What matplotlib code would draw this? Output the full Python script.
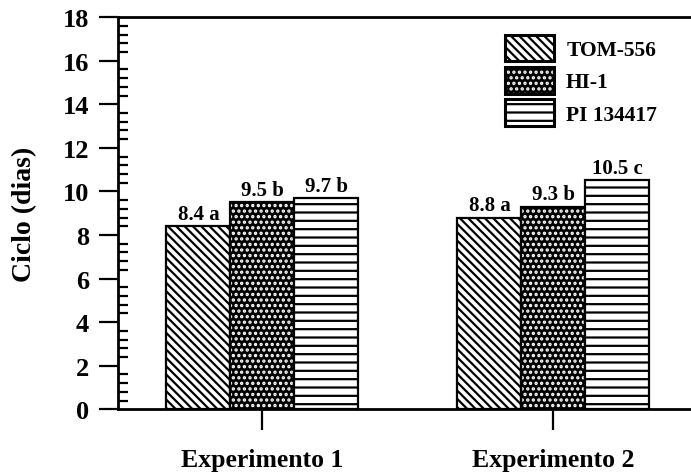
import matplotlib.pyplot as plt
import matplotlib.patches as mpatches
from matplotlib.legend_handler import HandlerTuple
import numpy as np
from matplotlib.ticker import MultipleLocator

# dados
experimentos = ['Experimento 1', 'Experimento 2']
genotipos = ['TOM-556', 'HI-1', 'PI 134417']
tom556 = [8.4, 8.8]
hi1 = [9.5, 9.3]
pi134417 = [9.7, 10.5]
letras = [['a', 'a'], ['b', 'b'], ['b', 'c']]

plt.rcParams['font.family'] = ['Liberation Serif', 'DejaVu Serif']
plt.rcParams['font.weight'] = 'bold'
plt.rcParams['hatch.linewidth'] = 1.6

fig = plt.figure(figsize=(6.91, 4.77), dpi=100)
ax = fig.add_axes([0.171, 0.14, 0.829, 0.822])

x = np.arange(len(experimentos))
w = 0.22
series = [tom556, hi1, pi134417]
hatches = ['\\' * 4, '...', '--']
handles = []
for i, vals in enumerate(series):
    pos = x + (i - 1) * w
    if i == 1:
        # fundo preto com pontos brancos
        ax.bar(pos, vals, w, color='black', edgecolor='white', linewidth=0,
               hatch=hatches[i])
        ax.bar(pos, vals, w, fill=False, edgecolor='black', linewidth=1.6)
        h = (mpatches.Patch(facecolor='black', edgecolor='white', hatch=hatches[i], linewidth=0),
             mpatches.Patch(fill=False, edgecolor='black', linewidth=2.2))
    else:
        ax.bar(pos, vals, w, color='white', edgecolor='black',
               linewidth=1.6, hatch=hatches[i])
        h = mpatches.Patch(facecolor='white', edgecolor='black', hatch=hatches[i], linewidth=2.2)
    handles.append(h)
    for p, v, l in zip(pos, vals, letras[i]):
        ax.text(p, v + 0.1, '%.1f %s' % (v, l), ha='center', va='bottom',
                fontsize=15, fontweight='bold')

ax.set_xlim(-0.496, 1.473)
ax.set_ylim(0, 18)
ax.set_xticks(x)
ax.set_xticklabels(experimentos, fontsize=18.5, fontweight='bold')
ax.set_yticks(range(0, 19, 2))
ax.yaxis.set_minor_locator(MultipleLocator(0.4))
ax.tick_params(axis='y', which='major', direction='out', length=14, width=1.6,
               labelsize=19, pad=7)
ax.tick_params(axis='y', which='minor', direction='in', length=7, width=1.6)
ax.tick_params(axis='x', which='major', direction='out', length=15, width=1.6, pad=13)
ax.set_ylabel('Ciclo (dias)', fontsize=20, fontweight='bold', labelpad=18)

ax.spines['right'].set_visible(False)
for s in ['left', 'top', 'bottom']:
    ax.spines[s].set_linewidth(2)

ax.legend(handles, genotipos, loc='upper left', bbox_to_anchor=(0.675, 0.955),
          frameon=False, borderaxespad=0, borderpad=0,
          handlelength=2.3, handleheight=1.53, labelspacing=0.26,
          handletextpad=0.55, prop={'weight': 'bold', 'size': 15.5},
          handler_map={tuple: HandlerTuple(ndivide=1, pad=0)})

plt.savefig('out.png', dpi=100)
